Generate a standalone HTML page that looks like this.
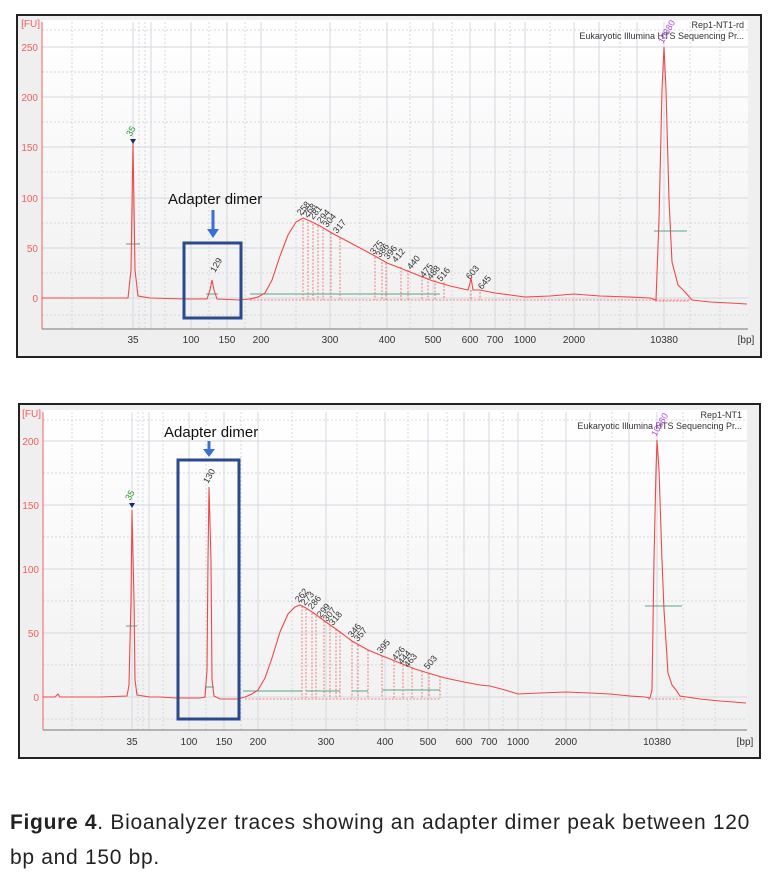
<!DOCTYPE html>
<html><head><meta charset="utf-8"><style>
body{margin:0;background:#fff;width:780px;height:879px;overflow:hidden;font-family:"Liberation Sans",sans-serif}
.cap{position:absolute;left:10px;top:805px;font-size:21px;line-height:35px;color:#222;width:770px;white-space:nowrap;letter-spacing:0.7px}
</style></head><body>
<svg width="780" height="879" style="position:absolute;left:0;top:0" font-family="Liberation Sans, sans-serif">
<defs>
<linearGradient id="bg" x1="0" y1="0" x2="0" y2="1"><stop offset="0" stop-color="#ffffff"/><stop offset="1" stop-color="#f0f0f0"/></linearGradient>
</defs>
<rect x="17" y="15" width="744" height="342" fill="#efefef" stroke="#222" stroke-width="2"/>
<rect x="42" y="20" width="706" height="309" fill="url(#bg)"/>
<g stroke="#d4d8e0" stroke-width="1">
<line x1="42" y1="47" x2="748" y2="47"/><line x1="42" y1="97" x2="748" y2="97"/><line x1="42" y1="147" x2="748" y2="147"/><line x1="42" y1="198" x2="748" y2="198"/><line x1="42" y1="248" x2="748" y2="248"/><line x1="42" y1="298" x2="748" y2="298"/>
<line x1="133" y1="22" x2="133" y2="329"/><line x1="151" y1="22" x2="151" y2="329"/><line x1="191" y1="22" x2="191" y2="329"/><line x1="227" y1="22" x2="227" y2="329"/><line x1="261" y1="22" x2="261" y2="329"/><line x1="330" y1="22" x2="330" y2="329"/><line x1="387" y1="22" x2="387" y2="329"/><line x1="433" y1="22" x2="433" y2="329"/><line x1="470" y1="22" x2="470" y2="329"/><line x1="495" y1="22" x2="495" y2="329"/><line x1="525" y1="22" x2="525" y2="329"/><line x1="574" y1="22" x2="574" y2="329"/><line x1="599" y1="22" x2="599" y2="329"/><line x1="637" y1="22" x2="637" y2="329"/><line x1="664" y1="22" x2="664" y2="329"/>
</g>
<g stroke="#d4d8e0" stroke-width="1" stroke-dasharray="2,2">
<line x1="42" y1="30" x2="748" y2="30"/><line x1="42" y1="72" x2="748" y2="72"/><line x1="42" y1="122" x2="748" y2="122"/><line x1="42" y1="172" x2="748" y2="172"/><line x1="42" y1="223" x2="748" y2="223"/><line x1="42" y1="273" x2="748" y2="273"/><line x1="42" y1="315" x2="748" y2="315"/>
<line x1="72" y1="22" x2="72" y2="329"/><line x1="102" y1="22" x2="102" y2="329"/><line x1="139" y1="22" x2="139" y2="329"/><line x1="145" y1="22" x2="145" y2="329"/><line x1="165" y1="22" x2="165" y2="329"/><line x1="209" y1="22" x2="209" y2="329"/><line x1="245" y1="22" x2="245" y2="329"/><line x1="296" y1="22" x2="296" y2="329"/><line x1="360" y1="22" x2="360" y2="329"/><line x1="410" y1="22" x2="410" y2="329"/><line x1="452" y1="22" x2="452" y2="329"/><line x1="510" y1="22" x2="510" y2="329"/><line x1="550" y1="22" x2="550" y2="329"/><line x1="620" y1="22" x2="620" y2="329"/><line x1="690" y1="22" x2="690" y2="329"/><line x1="720" y1="22" x2="720" y2="329"/>
</g>
<line x1="42" y1="22" x2="42" y2="329" stroke="#f06060" stroke-width="1"/>
<line x1="42" y1="329" x2="748" y2="329" stroke="#777" stroke-width="1"/>
<g fill="#f06060" font-size="10" text-anchor="end">
<text x="38" y="51">250</text><text x="38" y="101">200</text><text x="38" y="151">150</text><text x="38" y="202">100</text><text x="38" y="252">50</text><text x="38" y="302">0</text>
<text x="40" y="27">[FU]</text></g>
<g fill="#333" font-size="10" text-anchor="middle">
<text x="133" y="343">35</text><text x="191" y="343">100</text><text x="227" y="343">150</text><text x="261" y="343">200</text><text x="330" y="343">300</text><text x="387" y="343">400</text><text x="433" y="343">500</text><text x="470" y="343">600</text><text x="495" y="343">700</text><text x="525" y="343">1000</text><text x="574" y="343">2000</text><text x="664" y="343">10380</text><text x="746" y="343">[bp]</text>
</g>
<g fill="#333" font-size="9" text-anchor="end"><text x="744" y="28">Rep1-NT1-rd</text><text x="744" y="39">Eukaryotic Illumina HTS Sequencing Pr...</text></g>
<g stroke="#f06060" stroke-width="0.8" stroke-dasharray="2,1.5">
<line x1="303" y1="220" x2="303" y2="300"/><line x1="308" y1="222" x2="308" y2="300"/><line x1="313" y1="224" x2="313" y2="300"/><line x1="318" y1="226" x2="318" y2="300"/><line x1="323" y1="229" x2="323" y2="300"/><line x1="331" y1="233" x2="331" y2="300"/><line x1="340" y1="238" x2="340" y2="300"/>
<line x1="375" y1="257" x2="375" y2="300"/><line x1="382" y1="262" x2="382" y2="300"/><line x1="386" y1="263" x2="386" y2="300"/><line x1="401" y1="267" x2="401" y2="300"/><line x1="408" y1="270" x2="408" y2="300"/><line x1="422" y1="276" x2="422" y2="300"/><line x1="428" y1="278" x2="428" y2="300"/><line x1="435" y1="280" x2="435" y2="300"/><line x1="444" y1="282" x2="444" y2="300"/><line x1="471" y1="290" x2="471" y2="300"/><line x1="480" y1="292" x2="480" y2="300"/>
<line x1="250" y1="300" x2="690" y2="300"/><line x1="655" y1="301" x2="690" y2="301"/>
</g>
<g stroke="#5aa58a" stroke-width="1"><line x1="250" y1="294" x2="440" y2="294"/><line x1="126" y1="244" x2="140" y2="244"/><line x1="206" y1="294" x2="218" y2="294"/><line x1="654" y1="231" x2="687" y2="231"/></g>
<polyline fill="none" stroke="#f04848" stroke-width="1.1" points="42,298 100,298 128,298 131,270 133,142 135,270 138,296 150,298 185,299 207,299 210,290 212,280 214,290 217,299 240,300 250,299 258,297 265,293 272,280 280,256 288,235 296,222 303,218 310,221 320,226 330,232 345,240 360,248 375,256 387,263 400,268 415,274 433,281 450,286 468,290 470,283 471,278 473,290 480,290 495,293 510,295 525,297 550,296 574,294 600,296 630,297 650,298 656,300 659,220 662,90 664,47 666,90 669,200 672,262 678,285 685,292 692,300 710,302 730,303 747,304"/>
<path d="M130,139 l6,0 l-3,5z" fill="#1b2a6a"/>
<text transform="translate(131,137) rotate(-60)" fill="#2a9a2a" font-size="9">35</text>
<text transform="translate(215,273) rotate(-60)" fill="#333" font-size="9">129</text>
<g fill="#333" font-size="9">
<text transform="translate(301,216) rotate(-50)">258</text><text transform="translate(307,218) rotate(-50)">268</text><text transform="translate(313,220) rotate(-50)">281</text><text transform="translate(321,224) rotate(-50)">294</text><text transform="translate(327,228) rotate(-50)">304</text><text transform="translate(337,234) rotate(-50)">317</text>
<text transform="translate(374,255) rotate(-50)">375</text><text transform="translate(380,258) rotate(-50)">386</text><text transform="translate(388,260) rotate(-50)">396</text><text transform="translate(396,263) rotate(-50)">412</text><text transform="translate(411,270) rotate(-50)">440</text><text transform="translate(424,278) rotate(-50)">475</text><text transform="translate(431,280) rotate(-50)">488</text><text transform="translate(441,282) rotate(-50)">516</text><text transform="translate(470,280) rotate(-50)">603</text><text transform="translate(482,290) rotate(-50)">645</text>
</g>
<text transform="translate(663,44) rotate(-60)" fill="#b050e0" font-size="9">10380</text>
<rect x="184" y="243" width="57" height="75" fill="none" stroke="#2b4a8b" stroke-width="3"/>
<text x="168" y="204" font-size="15" fill="#111">Adapter dimer</text>
<line x1="213" y1="210" x2="213" y2="230" stroke="#3a6fd8" stroke-width="3"/><path d="M207,229 l12,0 l-6,9z" fill="#3a6fd8"/>

<rect x="19" y="404" width="741" height="354" fill="#efefef" stroke="#222" stroke-width="2"/>
<rect x="43" y="410" width="704" height="320" fill="url(#bg)"/>
<g stroke="#d4d8e0" stroke-width="1">
<line x1="43" y1="441" x2="747" y2="441"/><line x1="43" y1="505" x2="747" y2="505"/><line x1="43" y1="569" x2="747" y2="569"/><line x1="43" y1="633" x2="747" y2="633"/><line x1="43" y1="697" x2="747" y2="697"/>
<line x1="132" y1="412" x2="132" y2="730"/><line x1="149" y1="412" x2="149" y2="730"/><line x1="189" y1="412" x2="189" y2="730"/><line x1="224" y1="412" x2="224" y2="730"/><line x1="258" y1="412" x2="258" y2="730"/><line x1="326" y1="412" x2="326" y2="730"/><line x1="385" y1="412" x2="385" y2="730"/><line x1="428" y1="412" x2="428" y2="730"/><line x1="464" y1="412" x2="464" y2="730"/><line x1="489" y1="412" x2="489" y2="730"/><line x1="518" y1="412" x2="518" y2="730"/><line x1="566" y1="412" x2="566" y2="730"/><line x1="590" y1="412" x2="590" y2="730"/><line x1="629" y1="412" x2="629" y2="730"/><line x1="657" y1="412" x2="657" y2="730"/>
</g>
<g stroke="#d4d8e0" stroke-width="1" stroke-dasharray="2,2">
<line x1="43" y1="420" x2="747" y2="420"/><line x1="43" y1="473" x2="747" y2="473"/><line x1="43" y1="537" x2="747" y2="537"/><line x1="43" y1="601" x2="747" y2="601"/><line x1="43" y1="665" x2="747" y2="665"/><line x1="43" y1="719" x2="747" y2="719"/>
<line x1="72" y1="412" x2="72" y2="730"/><line x1="102" y1="412" x2="102" y2="730"/><line x1="138" y1="412" x2="138" y2="730"/><line x1="143" y1="412" x2="143" y2="730"/><line x1="163" y1="412" x2="163" y2="730"/><line x1="206" y1="412" x2="206" y2="730"/><line x1="241" y1="412" x2="241" y2="730"/><line x1="292" y1="412" x2="292" y2="730"/><line x1="357" y1="412" x2="357" y2="730"/><line x1="408" y1="412" x2="408" y2="730"/><line x1="447" y1="412" x2="447" y2="730"/><line x1="503" y1="412" x2="503" y2="730"/><line x1="542" y1="412" x2="542" y2="730"/><line x1="612" y1="412" x2="612" y2="730"/><line x1="683" y1="412" x2="683" y2="730"/><line x1="715" y1="412" x2="715" y2="730"/>
</g>
<line x1="43" y1="412" x2="43" y2="730" stroke="#f06060" stroke-width="1"/>
<line x1="43" y1="730" x2="747" y2="730" stroke="#777" stroke-width="1"/>
<g fill="#f06060" font-size="10" text-anchor="end">
<text x="39" y="445">200</text><text x="39" y="509">150</text><text x="39" y="573">100</text><text x="39" y="637">50</text><text x="39" y="701">0</text>
<text x="41" y="417">[FU]</text></g>
<g fill="#333" font-size="10" text-anchor="middle">
<text x="132" y="745">35</text><text x="189" y="745">100</text><text x="224" y="745">150</text><text x="258" y="745">200</text><text x="326" y="745">300</text><text x="385" y="745">400</text><text x="428" y="745">500</text><text x="464" y="745">600</text><text x="489" y="745">700</text><text x="518" y="745">1000</text><text x="566" y="745">2000</text><text x="657" y="745">10380</text><text x="745" y="745">[bp]</text>
</g>
<g fill="#333" font-size="9" text-anchor="end"><text x="742" y="418">Rep1-NT1</text><text x="742" y="429">Eukaryotic Illumina HTS Sequencing Pr...</text></g>
<g stroke="#f06060" stroke-width="0.8" stroke-dasharray="2,1.5">
<line x1="302" y1="606" x2="302" y2="698"/><line x1="306" y1="609" x2="306" y2="698"/><line x1="312" y1="613" x2="312" y2="698"/><line x1="316" y1="616" x2="316" y2="698"/><line x1="324" y1="621" x2="324" y2="698"/><line x1="330" y1="625" x2="330" y2="698"/><line x1="336" y1="629" x2="336" y2="698"/><line x1="340" y1="632" x2="340" y2="698"/>
<line x1="352" y1="641" x2="352" y2="698"/><line x1="358" y1="645" x2="358" y2="698"/><line x1="368" y1="650" x2="368" y2="698"/><line x1="382" y1="656" x2="382" y2="698"/><line x1="394" y1="661" x2="394" y2="698"/><line x1="403" y1="665" x2="403" y2="698"/><line x1="412" y1="668" x2="412" y2="698"/><line x1="422" y1="671" x2="422" y2="698"/><line x1="429" y1="673" x2="429" y2="698"/><line x1="440" y1="676" x2="440" y2="698"/>
<line x1="245" y1="699" x2="440" y2="699"/><line x1="648" y1="699" x2="685" y2="699"/>
</g>
<g stroke="#5aa58a" stroke-width="1"><line x1="243" y1="691" x2="302" y2="691"/><line x1="306" y1="691" x2="340" y2="691"/><line x1="352" y1="691" x2="368" y2="691"/><line x1="382" y1="690" x2="440" y2="690"/><line x1="126" y1="626" x2="137" y2="626"/><line x1="205" y1="687" x2="214" y2="687"/><line x1="645" y1="606" x2="682" y2="606"/></g>
<polyline fill="none" stroke="#f04848" stroke-width="1.1" points="43,697 55,697 58,694 60,697 100,697 127,696 129,685 131,600 132,510 134,600 135,680 137,695 150,697 160,697 175,698 200,698 205,697 207,670 208,560 209,487 211,560 212,680 214,696 220,699 238,699 245,697 252,694 258,690 265,678 272,658 280,632 288,614 295,607 300,605 306,608 315,614 326,622 340,632 352,641 368,650 385,657 400,663 415,669 428,673 445,678 464,682 480,685 490,686 505,690 518,694 540,693 566,692 590,693 610,694 630,696 645,697 650,698 652,690 654,560 656,470 657,440 659,470 662,560 664,610 668,673 672,685 676,690 680,696 700,699 720,701 746,703"/>
<path d="M129,503 l6,0 l-3,5z" fill="#1b2a6a"/>
<text transform="translate(130,501) rotate(-60)" fill="#2a9a2a" font-size="9">35</text>
<text transform="translate(208,484) rotate(-60)" fill="#333" font-size="9">130</text>
<g fill="#333" font-size="9">
<text transform="translate(299,603) rotate(-50)">262</text><text transform="translate(305,606) rotate(-50)">273</text><text transform="translate(312,610) rotate(-50)">286</text><text transform="translate(321,618) rotate(-50)">299</text><text transform="translate(327,622) rotate(-50)">307</text><text transform="translate(333,626) rotate(-50)">318</text>
<text transform="translate(352,638) rotate(-50)">346</text><text transform="translate(358,642) rotate(-50)">357</text><text transform="translate(381,654) rotate(-50)">395</text><text transform="translate(396,661) rotate(-50)">426</text><text transform="translate(402,665) rotate(-50)">444</text><text transform="translate(408,668) rotate(-50)">463</text><text transform="translate(428,670) rotate(-50)">503</text>
</g>
<text transform="translate(656,437) rotate(-60)" fill="#b050e0" font-size="9">10380</text>
<rect x="178" y="460" width="61" height="259" fill="none" stroke="#2b4a8b" stroke-width="3"/>
<text x="164" y="437" font-size="15" fill="#111">Adapter dimer</text>
<line x1="209" y1="441" x2="209" y2="450" stroke="#3a6fd8" stroke-width="3"/><path d="M203,449 l12,0 l-6,8z" fill="#3a6fd8"/>
</svg>
<div class="cap"><b>Figure 4</b>. Bioanalyzer traces showing an adapter dimer peak between 120<br>bp and 150 bp.</div>
</body></html>
